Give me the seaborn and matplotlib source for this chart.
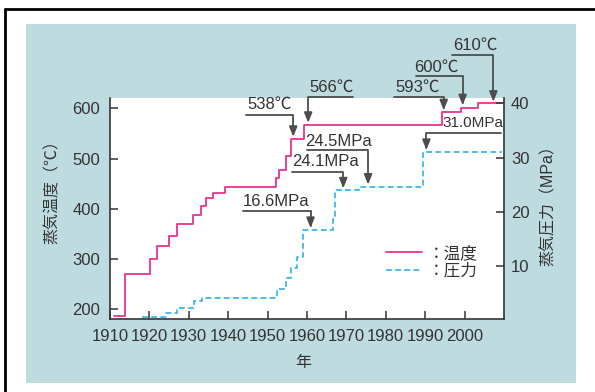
import matplotlib
matplotlib.use('Agg')
import matplotlib.pyplot as plt
import seaborn as sns
from matplotlib.lines import Line2D
from matplotlib.patches import Rectangle

# data
temp_years = [1910.9, 1913.7, 1920.2, 1921.9, 1924.9, 1927.1, 1931.1, 1933.0, 1934.4, 1936.1,
              1939.1, 1952.2, 1953.0, 1954.7, 1955.9, 1959.2, 1994.3, 1999.2, 2003.4, 2009.6]
temp_values = [187, 271, 300, 325, 346, 369, 388, 405, 421, 432,
               443, 461, 477, 506, 538, 566, 593, 600, 610, 610]

press_years = [1918.2, 1924.2, 1927.0, 1931.2, 1933.3, 1952.3, 1954.6, 1956.0, 1957.4, 1958.9,
               1966.5, 1967.1, 1973.2, 1989.4, 2009.6]
press_values = [0.6, 1.3, 2.2, 3.6, 4.1, 5.7, 7.7, 9.7, 11.7, 16.6,
                18.6, 24.1, 24.5, 31.0, 31.0]

x_ticks = [1910, 1920, 1930, 1940, 1950, 1960, 1970, 1980, 1990, 2000]
temp_ticks = [200, 300, 400, 500, 600]
press_ticks = [10, 20, 30, 40]

# annotations: label, text x, text y, underline y, underline start x, arrow x, arrow tip y, size
temp_notes = [
    ("538℃", 1944.8, 608, 587, 1944.6, 1956.5, 543, 12),
    ("566℃", 1960.5, 642, 623, 1971.6, 1960.3, 571, 12),
    ("593℃", 1982.5, 642, 623, 1982.0, 1994.7, 596, 12),
    ("600℃", 1987.3, 682, 664, 1987.6, 1999.5, 606, 12),
    ("610℃", 1997.0, 726, 707, 1996.9, 2007.3, 613, 12),
]
press_notes = [
    ("24.5MPa", 1959.5, 32.9, 31.4, 1959.9, 1975.5, 25.0, 12),
    ("24.1MPa", 1956.1, 29.3, 27.4, 1956.1, 1969.2, 24.3, 12),
    ("16.6MPa", 1943.7, 21.9, 20.2, 1943.7, 1960.9, 17.0, 12),
    ("31.0MPa", 1994.5, 36.4, 34.5, 2009.3, 1990.3, 31.4, 11),
]

legend_labels = ["：温度", "：圧力"]

pink = "#e8338e"
blue = "#2fb0e6"
txt = "#333333"

sns.set_style("ticks")
plt.rcParams['font.family'] = ['Liberation Sans', 'Noto Sans CJK JP', 'DejaVu Sans']
plt.rcParams['font.size'] = 12

fig = plt.figure(figsize=(5.95, 3.92), dpi=100)

# light blue panel and black frame
fig.add_artist(Rectangle((26/595, 1-383/392), 550/595, 359/392, transform=fig.transFigure,
                         facecolor="#bedbe0", edgecolor="none", zorder=-5))
fig.add_artist(Line2D([5/595, 1.0], [1-9/392, 1-9/392], transform=fig.transFigure, color="black", lw=2))
fig.add_artist(Line2D([5/595, 5/595], [0.0, 1-9/392], transform=fig.transFigure, color="black", lw=2))

ax1 = fig.add_axes([110/595, 1-319/392, 394/595, 221/392])
ax1.set_facecolor("white")
ax2 = ax1.twinx()

sns.lineplot(x=temp_years, y=temp_values, ax=ax1, color=pink, linewidth=1.3, drawstyle='steps-post')
sns.lineplot(x=press_years, y=press_values, ax=ax2, color=blue, linewidth=1.2,
             drawstyle='steps-post', linestyle=(0, (3.5, 2)))

ax1.set_xlim(1910, 2010)
ax1.set_ylim(180.5, 620.5)
ax2.set_ylim(0.2, 41)
ax1.set_xticks(x_ticks)
ax1.set_yticks(temp_ticks)
ax2.set_yticks(press_ticks)

for ax in (ax1, ax2):
    ax.spines['top'].set_visible(False)
    for s in ('left', 'right', 'bottom'):
        ax.spines[s].set_color('#333333')
        ax.spines[s].set_linewidth(1.2)
    ax.set_xlabel("")
    ax.set_ylabel("")
ax1.spines['right'].set_visible(False)
ax2.spines['left'].set_visible(False)
ax2.spines['bottom'].set_visible(False)

ax1.tick_params(axis='x', direction='in', length=6, width=1.1, pad=7, colors=txt, labelsize=12)
ax1.tick_params(axis='y', direction='in', length=6, width=1.1, pad=7, colors=txt, labelsize=12)
ax2.tick_params(axis='y', direction='in', length=6, width=1.1, pad=5, colors=txt, labelsize=12)

# axis labels
ax1.text(-0.147, 0.593, "蒸気温度（℃）", rotation=90, ha='center', va='center',
         transform=ax1.transAxes, color=txt, fontsize=11.5)
ax2.text(1.112, 0.53, "蒸気圧力（MPa）", rotation=90, ha='center', va='center',
         transform=ax2.transAxes, color=txt, fontsize=11.5)
ax1.text(0.49, -0.195, "年", ha='center', va='center', transform=ax1.transAxes,
         color=txt, fontsize=11.5)

arrow = dict(arrowstyle="-|>,head_length=0.5,head_width=0.2", color="#4d4d4d", lw=1.3,
             shrinkA=0, shrinkB=0, connectionstyle="angle,angleA=0,angleB=90,rad=0")


def add_notes(ax, notes):
    for label, tx, ty, ly, lx, ax_x, tip, size in notes:
        ax.text(tx, ty, label, ha='left', va='center', color=txt, fontsize=size)
        ax.annotate("", xy=(ax_x, tip), xytext=(lx, ly), arrowprops=arrow, annotation_clip=False)


add_notes(ax1, temp_notes)
add_notes(ax2, press_notes)

handles = [Line2D([], [], color=pink, lw=1.3),
           Line2D([], [], color=blue, lw=1.2, linestyle=(0, (3.5, 2)))]
leg = ax2.legend(handles, legend_labels, loc='center left', bbox_to_anchor=(0.70, 0.258),
                 frameon=False, borderpad=0, borderaxespad=0, handlelength=2.2,
                 handletextpad=0.3, labelspacing=0.1, fontsize=12)
for t in leg.get_texts():
    t.set_color(txt)

fig.savefig("out.png", dpi=100, facecolor="white")
